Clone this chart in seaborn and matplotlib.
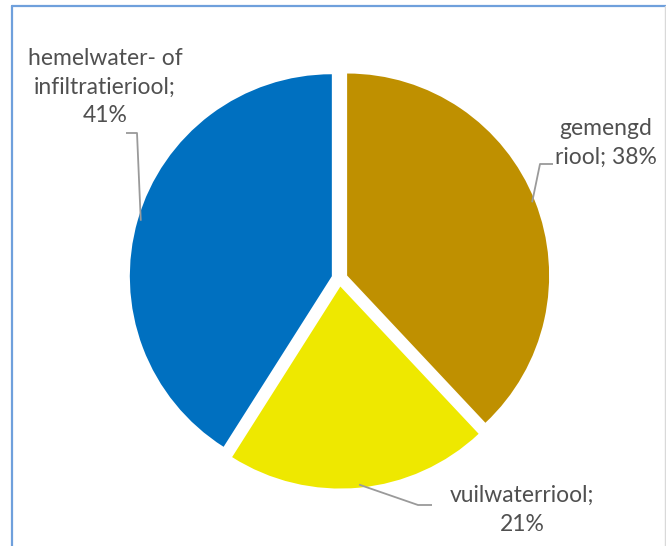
import matplotlib
matplotlib.use("Agg")
import matplotlib.pyplot as plt
import numpy as np
import seaborn as sns

# data
labels = ["gemengd\nriool; 38%", "vuilwaterriool;\n21%", "hemelwater- of\ninfiltratieriool;\n41%"]
values = [38, 21, 41]
colors = ["#BF9000", "#EEE800", "#0070C0"]

# label placement (pixel coords, y down) and leader elbows
label_pos = [(606, 143), (522, 510), (105, 87)]
elbows = [[(540, 164), (553, 164)], [(418, 505), (432, 505)], [(137, 133), (126, 133)]]

sns.set_theme(style="white")
plt.rcParams["font.family"] = ["Lato", "DejaVu Sans"]

W, H = 666, 546
fig = plt.figure(figsize=(W / 100, H / 100), dpi=100)
ax = fig.add_axes([0, 0, 1, 1])

center = (339.6, H - 278.5)
radius = 202
explode = [0.04 * radius] * len(values)  # matplotlib offsets in data units

wedges, _ = ax.pie(
    values,
    colors=colors,
    startangle=90,
    counterclock=False,
    explode=explode,
    radius=radius,
    center=center,
    wedgeprops=dict(linewidth=0),
    frame=True,
)
ax.set_xlim(0, W)
ax.set_ylim(0, H)
ax.set_aspect("equal")
ax.axis("off")

for w, lab, (lx, ly), elb in zip(wedges, labels, label_pos, elbows):
    # leader line starts at the wedge's middle angle, on its edge
    mid = np.deg2rad((w.theta1 + w.theta2) / 2)
    cx, cy = w.center
    ax_x = cx + radius * 0.985 * np.cos(mid)
    ax_y = cy + radius * 0.985 * np.sin(mid)
    xs = [ax_x] + [p[0] for p in elb]
    ys = [ax_y] + [H - p[1] for p in elb]
    ax.plot(xs, ys, color="#9A9A9A", lw=1.3, solid_capstyle="butt")
    ax.text(lx, H - ly, lab, ha="center", va="center", fontsize=16.5,
            color="#505050", linespacing=1.45)

# chart frame
ax.plot([12, 12], [0, H - 6], color="#6FA0DC", lw=1.6, clip_on=False)
ax.plot([12, W], [H - 6, H - 6], color="#6FA0DC", lw=1.6, clip_on=False)
ax.plot([665, 665], [0, H - 6], color="#D9D9D9", lw=1.0, clip_on=False)

fig.savefig("out.png", dpi=100)
